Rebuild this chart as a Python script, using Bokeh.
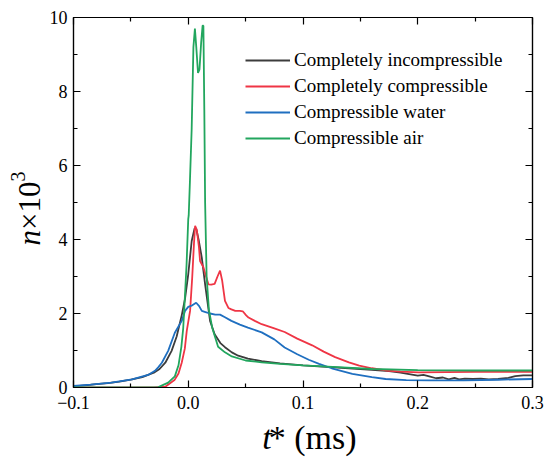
import math
from bokeh.plotting import figure
from bokeh.layouts import row, column
from bokeh.models import (LinearAxis, FixedTicker, Label, Legend, LegendItem, Range1d,
                          CustomLabelingPolicy)
from bokeh.embed import file_html
from bokeh.resources import INLINE

# ---------------- data ----------------
series_names = ["Completely incompressible", "Completely compressible",
                "Compressible water", "Compressible air"]

inc_t = [-0.1, -0.09, -0.08, -0.07, -0.06, -0.05, -0.04, -0.03, -0.025, -0.02,
         -0.0145, -0.0101, -0.0057, -0.0028, 0.0, 0.003, 0.0055, 0.0069, 0.009,
         0.0118, 0.0147, 0.019, 0.023, 0.028, 0.032, 0.038, 0.0435, 0.052, 0.064,
         0.08, 0.1, 0.12, 0.14, 0.16, 0.175, 0.185, 0.195, 0.2, 0.205, 0.21, 0.216,
         0.222, 0.227, 0.232, 0.236, 0.241, 0.248, 0.255, 0.262, 0.27, 0.279,
         0.285, 0.292, 0.3]
inc_n = [0.03, 0.06, 0.09, 0.12, 0.16, 0.21, 0.28, 0.4, 0.5, 0.67,
         0.99, 1.38, 1.95, 2.4, 3.06, 3.96, 4.3, 4.3, 4.0,
         3.51, 2.79, 1.8, 1.44, 1.2, 1.09, 0.95, 0.86, 0.78, 0.71,
         0.65, 0.6, 0.56, 0.52, 0.48, 0.44, 0.4, 0.35, 0.32, 0.34, 0.3, 0.25,
         0.27, 0.22, 0.26, 0.22, 0.24, 0.23, 0.24, 0.22, 0.23, 0.26,
         0.31, 0.33, 0.33]

comp_t = [-0.1, -0.05, -0.03, -0.02, -0.012, -0.0085, -0.0057, -0.003, -0.0013,
          0.0016, 0.0035, 0.005, 0.006, 0.0075, 0.0093, 0.0103, 0.0132, 0.0155,
          0.0176, 0.02, 0.023, 0.0255, 0.0277, 0.0295, 0.032, 0.035, 0.0376,
          0.041, 0.045, 0.0475, 0.0505, 0.0525, 0.058, 0.064, 0.075, 0.084,
          0.095, 0.108, 0.118, 0.128, 0.14, 0.149, 0.16, 0.172, 0.185, 0.201,
          0.25, 0.3]
comp_n = [0.0, 0.0, 0.0, 0.02, 0.2, 0.38, 0.67, 1.05, 1.53,
          2.07, 3.0, 3.9, 4.37, 4.25, 3.8, 3.42, 3.25, 3.0,
          2.79, 2.78, 2.8, 3.0, 3.16, 2.9, 2.34, 2.15, 2.11,
          2.07, 2.07, 2.06, 1.95, 1.89, 1.8, 1.71, 1.6, 1.5,
          1.32, 1.14, 0.97, 0.82, 0.68, 0.59, 0.52, 0.46, 0.43, 0.41,
          0.42, 0.42]

water_t = [-0.1, -0.085, -0.067, -0.049, -0.035, -0.029, -0.026, -0.023, -0.0175,
           -0.0117, -0.0057, -0.0028, 0.0, 0.0035, 0.0069, 0.0095, 0.0118, 0.015,
           0.019, 0.0235, 0.0277, 0.032, 0.0376, 0.045, 0.052, 0.064, 0.075,
           0.084, 0.095, 0.105, 0.114, 0.125, 0.143, 0.16, 0.172, 0.19, 0.21,
           0.24, 0.27, 0.3]
water_n = [0.04, 0.08, 0.13, 0.22, 0.34, 0.45, 0.55, 0.67, 0.99,
           1.48, 1.8, 2.07, 2.18, 2.22, 2.29, 2.2, 2.07, 2.04,
           2.0, 1.97, 1.97, 1.9, 1.8, 1.7, 1.62, 1.49, 1.3,
           1.08, 0.9, 0.75, 0.64, 0.52, 0.37, 0.28, 0.23, 0.2, 0.19,
           0.19, 0.21, 0.23]

air_t = [-0.1, -0.05, -0.026, -0.0175, -0.0117, -0.0085, -0.006, -0.0044, -0.003,
         -0.0015, 0.0, 0.0004, 0.0015, 0.003, 0.0045, 0.0058, 0.007, 0.0085,
         0.0098, 0.0112, 0.0125, 0.0132, 0.014, 0.0147, 0.016, 0.018, 0.021,
         0.026, 0.032, 0.038, 0.05, 0.064, 0.08, 0.1, 0.13, 0.16, 0.2, 0.25, 0.3]
air_n = [0.0, 0.0, 0.01, 0.13, 0.3, 0.6, 1.1, 1.6, 2.4,
         3.3, 4.55, 4.65, 5.6, 7.0, 9.2, 9.7, 9.2, 8.5,
         8.6, 9.3, 9.78, 9.78, 7.5, 5.0, 3.0, 2.1, 1.6,
         1.1, 0.95, 0.84, 0.73, 0.68, 0.64, 0.6, 0.55, 0.5, 0.47, 0.46, 0.46]

series_colors = ["#3c3c3c", "#ef3545", "#1f6fc0", "#22a65e"]

x_tick_values = [-0.1, 0.0, 0.1, 0.2, 0.3]
x_tick_labels = ["\u22120.1", "0.0", "0.1", "0.2", "0.3"]
x_minor_values = [-0.05, 0.05, 0.15, 0.25]
y_tick_values = [0, 2, 4, 6, 8, 10]
y_tick_labels = ["0", "2", "4", "6", "8", "10"]
y_minor_values = [1, 3, 5, 7, 9]

FONT = "Liberation Serif"

# ---------------- main figure ----------------
YW = 46          # width of the strip holding the vertical axis title
MAIN_H = 417
MAIN_W = 500
XH = 49          # height of the strip holding the horizontal axis title
p = figure(width=MAIN_W, height=MAIN_H, output_backend="svg", toolbar_location=None,
           x_range=Range1d(-0.1, 0.3), y_range=Range1d(0, 10),
           min_border_left=27, min_border_right=14, min_border_top=17,
           min_border_bottom=30)
p.xgrid.visible = False
p.ygrid.visible = False
p.outline_line_color = "black"
p.outline_line_width = 1.2
p.background_fill_color = "white"
p.border_fill_color = "white"

xt = FixedTicker(ticks=x_tick_values, minor_ticks=x_minor_values)
yt = FixedTicker(ticks=y_tick_values, minor_ticks=y_minor_values)

hide_labels = CustomLabelingPolicy(code="""
if (typeof indices.unset === "function") {
  for (let i = 0; i < indices.size; i++) { indices.unset(i) }
} else if (typeof indices.clear === "function") {
  indices.clear()
}
return indices
""")


def style_axis(ax, ticker, labels=None, show_labels=True, standoff=8):
    ax.ticker = ticker
    ax.axis_line_color = "black"
    ax.axis_line_width = 1.2
    ax.major_tick_in = 7
    ax.major_tick_out = 0
    ax.minor_tick_in = 4
    ax.minor_tick_out = 0
    ax.major_tick_line_color = "black"
    ax.minor_tick_line_color = "black"
    ax.major_tick_line_width = 1.2
    ax.minor_tick_line_width = 1.2
    if show_labels:
        ax.major_label_text_font = FONT
        ax.major_label_text_font_size = "18px"
        ax.major_label_text_color = "black"
        ax.major_label_standoff = standoff
        if labels is not None:
            ax.major_label_overrides = labels
    else:
        ax.major_label_text_font_size = "1px"
        ax.major_label_standoff = 0
        ax.major_label_policy = hide_labels


style_axis(p.xaxis[0], xt, dict(zip(x_tick_values, x_tick_labels)), standoff=8)
style_axis(p.yaxis[0], yt, dict(zip(y_tick_values, y_tick_labels)), standoff=6)

top_ax = LinearAxis()
style_axis(top_ax, xt, show_labels=False)
p.add_layout(top_ax, "above")
right_ax = LinearAxis()
style_axis(right_ax, yt, show_labels=False)
p.add_layout(right_ax, "right")

# ---------------- curves ----------------
all_t = [inc_t, comp_t, water_t, air_t]
all_n = [inc_n, comp_n, water_n, air_n]
renderers = []
for t, n, c in zip(all_t, all_n, series_colors):
    renderers.append(p.line(t, n, line_color=c, line_width=1.8))

legend = Legend(items=[LegendItem(label=nm, renderers=[r])
                       for nm, r in zip(series_names, renderers)],
                location=(172, 238))
legend.label_text_font = FONT
legend.label_text_font_size = "19px"
legend.label_text_color = "black"
legend.glyph_width = 45
legend.glyph_height = 22
legend.label_height = 22
legend.label_standoff = 4
legend.spacing = 4
legend.padding = 0
legend.margin = 0
legend.border_line_color = None
legend.background_fill_alpha = 0
p.add_layout(legend)


# ---------------- strips for the axis titles (pixel-unit ranges) ----------------
def blank(w, h):
    f = figure(width=w, height=h, output_backend="svg", toolbar_location=None,
               x_range=Range1d(0, w), y_range=Range1d(h, 0),
               x_axis_location=None, y_axis_location=None,
               min_border=0)
    f.xgrid.visible = False
    f.ygrid.visible = False
    f.outline_line_color = None
    f.border_fill_color = "white"
    f.background_fill_color = "white"
    return f


def add_text(f, txt, x, y, size, style="normal", angle=0.0):
    f.add_layout(Label(x=x, y=y, text=txt, angle=angle,
                       text_font=FONT, text_font_size=size,
                       text_font_style=style, text_color="black",
                       text_align="center", text_baseline="middle"))


yfig = blank(YW, MAIN_H + XH)
add_text(yfig, "n", 28.5, 237.3, "31px", "italic", math.pi / 2)
add_text(yfig, "\u00d710", 28.5, 205.3, "31px", "normal", math.pi / 2)
add_text(yfig, "3", 17.5, 176, "20px", "normal", math.pi / 2)

xfig = blank(MAIN_W, XH)
add_text(xfig, "t", 210.7, 19.5, "34px", "italic")
add_text(xfig, "* (ms)", 260.4, 19.5, "34px", "normal")

layout = row(yfig, column(p, xfig, spacing=0), spacing=0)

open("out.html", "w").write(file_html(layout, INLINE))
